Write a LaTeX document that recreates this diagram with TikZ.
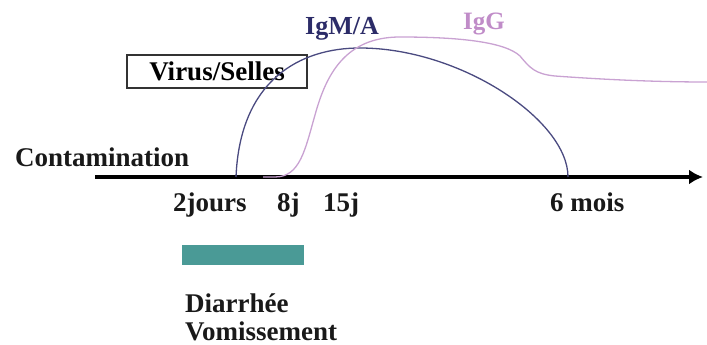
\documentclass[tikz,border=0pt]{standalone}
\usepackage{fontspec}
\setmainfont{Liberation Serif}
\usepackage{tikz}
\usetikzlibrary{arrows.meta}

\definecolor{igmblue}{RGB}{74,74,128}
\definecolor{igmtext}{RGB}{44,44,104}
\definecolor{iggpink}{RGB}{201,162,210}
\definecolor{iggtext}{RGB}{192,140,200}
\definecolor{barteal}{RGB}{74,154,150}

\tikzset{
	lbl/.style={anchor=base west, inner sep=0pt, font=\bfseries\fontsize{27}{30}\selectfont, text=black!90},
	curve/.style={line width=1.3pt}
}

\begin{document}
\begin{tikzpicture}[x=1pt,y=-1pt]
		\useasboundingbox (0,0) rectangle (707,345);
		% axis
		\coordinate (axisL) at (95,177);
		\coordinate (axisR) at (703,177);
		\draw[line width=3.6pt, -{Latex[length=14pt,width=15pt]}] (axisL) -- (axisR);
		\node[lbl] (contam) at (15,166) {Contamination};
		% virus box
		\node[draw=black!80, line width=1.2pt, minimum width=180pt, minimum height=33pt,
			inner sep=0pt, font=\bfseries\fontsize{27}{30}\selectfont] (virus) at (217,71.5) {Virus/Selles};
		% IgM/A curve
		\draw[curve, igmblue] (236,177) .. controls (240,80) and (300,48) .. (360,48)
			.. controls (460,48) and (568,120) .. (568,177);
		% IgG curve
		\draw[curve, iggpink] (263,177) -- (275,177) .. controls (300,177) and (305,150) .. (315,115)
			.. controls (326,75) and (345,37) .. (400,37)
			.. controls (460,37) and (505,42) .. (520,56)
			.. controls (530,68) and (535,74) .. (555,76)
			.. controls (610,80) and (660,82) .. (707,82);
		\node[lbl, text=igmtext, font=\bfseries\fontsize{26}{30}\selectfont] (igm) at (305,35) {IgM/A};
		\node[lbl, text=iggtext, font=\bfseries\fontsize{25}{30}\selectfont] (igg) at (463,30) {IgG};
		% time labels
		\node[lbl] (d2) at (173,211) {2jours};
		\node[lbl] (d8) at (277,211) {8j};
		\node[lbl] (d15) at (323,211) {15j};
		\node[lbl] (m6) at (550,211) {6 mois};
		% symptoms
		\fill[barteal] (182,245) rectangle (304,265);
		\node[lbl] (diar) at (185,312) {Diarrhée};
		\node[lbl] (vomi) at (185,340) {Vomissement};
	\end{tikzpicture}
\end{document}
